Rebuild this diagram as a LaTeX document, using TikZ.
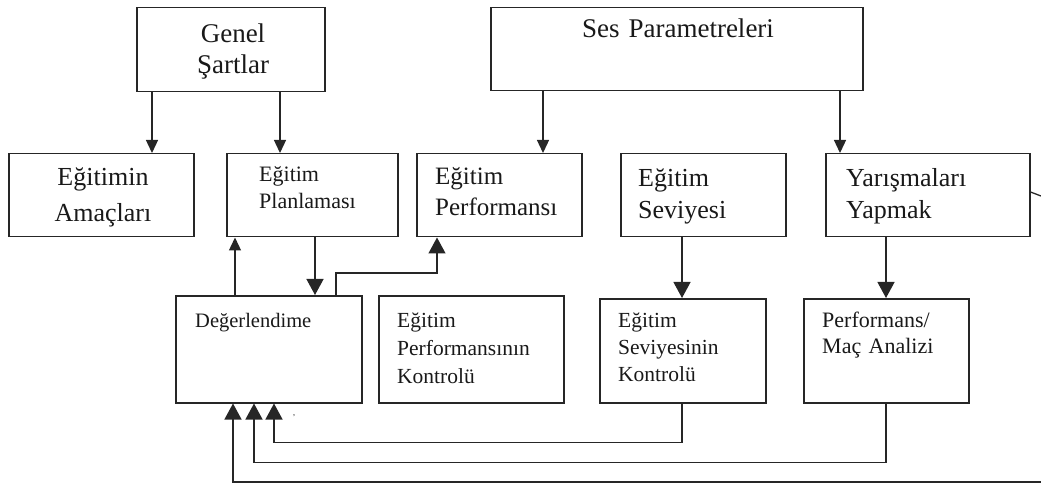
\documentclass[tikz,border=0pt]{standalone}
\usepackage{fontspec}
\setmainfont{Liberation Serif}
\usetikzlibrary{arrows.meta}
\definecolor{ln}{HTML}{262626}
\tikzset{
  box/.style={draw=ln, line width=1.5pt, anchor=north west, inner sep=0pt, fill=white},
  conn/.style={draw=ln, line width=1.3pt},
  smallarr/.style={conn, -{Triangle[width=12pt,length=13pt]}},
  bigarr/.style={conn, -{Triangle[width=17pt,length=16pt,fill=ln,color=ln]}},
  lbl/.style={inner sep=0pt, anchor=base west, align=left, text width=#1, text=black!90},
  clbl/.style={inner sep=0pt, anchor=base, align=center, text width=#1, text=black!90},
}
\begin{document}
\begin{tikzpicture}[x=1pt,y=-1pt]
\useasboundingbox (0,0) rectangle (1041,486);
% boxes
\node[box, minimum width=188pt, minimum height=84pt] (gs) at (136,7) {};
\node[box, minimum width=372pt, minimum height=83pt] (sp) at (490,7) {};
\node[box, minimum width=185pt, minimum height=83pt] (ea) at (8,153) {};
\node[box, minimum width=171pt, minimum height=83pt] (ep) at (226,153) {};
\node[box, minimum width=165pt, minimum height=83pt] (eperf) at (416,153) {};
\node[box, minimum width=165pt, minimum height=83pt] (es) at (620,153) {};
\node[box, minimum width=204pt, minimum height=83pt] (yy) at (825,153) {};
\node[box, minimum width=186pt, minimum height=107pt] (dg) at (175,295) {};
\node[box, minimum width=185pt, minimum height=107pt] (epk) at (378,295) {};
\node[box, minimum width=166pt, minimum height=104pt] (esk) at (599,298) {};
\node[box, minimum width=165pt, minimum height=104pt] (pm) at (803,298) {};
% labels
\node[clbl=160pt, font=\fontsize{27}{31}\selectfont] (tgs) at (233,43) {Genel\\Şartlar};
\node[clbl=300pt, font=\fontsize{27}{31}\selectfont] (tsp) at (678,38) {Ses Parametreleri};
\node[clbl=160pt, font=\fontsize{26}{36}\selectfont] (tea) at (103,186) {Eğitimin\\Amaçları};
\node[lbl=150pt, font=\fontsize{22}{27}\selectfont] (tep) at (259,182) {Eğitim\\Planlaması};
\node[lbl=150pt, font=\fontsize{25}{31}\selectfont] (teperf) at (435,185) {Eğitim\\Performansı};
\node[lbl=150pt, font=\fontsize{26}{32}\selectfont] (tes) at (638,187) {Eğitim\\Seviyesi};
\node[lbl=180pt, font=\fontsize{26}{32}\selectfont] (tyy) at (846,187) {Yarışmaları\\Yapmak};
\node[lbl=170pt, font=\fontsize{20.5}{27}\selectfont] (tdg) at (195,327) {Değerlendime};
\node[lbl=165pt, font=\fontsize{21.5}{28}\selectfont] (tepk) at (397,327) {Eğitim\\Performansının\\Kontrolü};
\node[lbl=145pt, font=\fontsize{21.5}{27}\selectfont] (tesk) at (618,327) {Eğitim\\Seviyesinin\\Kontrolü};
\node[lbl=145pt, font=\fontsize{22}{26}\selectfont] (tpm) at (822,327) {Performans/\\Maç Analizi};
\node[inner sep=0pt, font=\fontsize{8}{8}\selectfont] (tick) at (294,416) {,};
% connectors
\draw[smallarr] ([xshift=16pt]gs.south west) -- ([xshift=16pt]gs.south west |- ea.north);
\draw[smallarr] ([xshift=144pt]gs.south west) -- ([xshift=144pt]gs.south west |- ep.north);
\draw[smallarr] ([xshift=53pt]sp.south west) -- ([xshift=53pt]sp.south west |- eperf.north);
\draw[smallarr] ([xshift=350pt]sp.south west) -- ([xshift=350pt]sp.south west |- yy.north);
\draw[smallarr] ([xshift=60pt]dg.north west) -- ([xshift=60pt]dg.north west |- ep.south);
\draw[bigarr] ([xshift=89pt]ep.south west) -- ([xshift=89pt]ep.south west |- dg.north);
\draw[bigarr] ([xshift=161pt]dg.north west) -- ++(0,-22) -| ([xshift=21pt]eperf.south west);
\draw[bigarr] ([xshift=62pt]es.south west) -- ([xshift=62pt]es.south west |- esk.north);
\draw[bigarr] ([xshift=61pt]yy.south west) -- ([xshift=61pt]yy.south west |- pm.north);
\draw[bigarr] ([xshift=83pt]esk.south west) -- ++(0,39) -| ([xshift=99pt]dg.south west);
\draw[bigarr] ([xshift=83pt]pm.south west) -- ++(0,59) -| ([xshift=79pt]dg.south west);
\coordinate (offb) at (1041,482);
\coordinate (offr) at (1041,196);
\draw[bigarr] (offb) -| ([xshift=58pt]dg.south west);
\draw[conn] ([yshift=-39pt]yy.north east) -- (offr);
\end{tikzpicture}
\end{document}
